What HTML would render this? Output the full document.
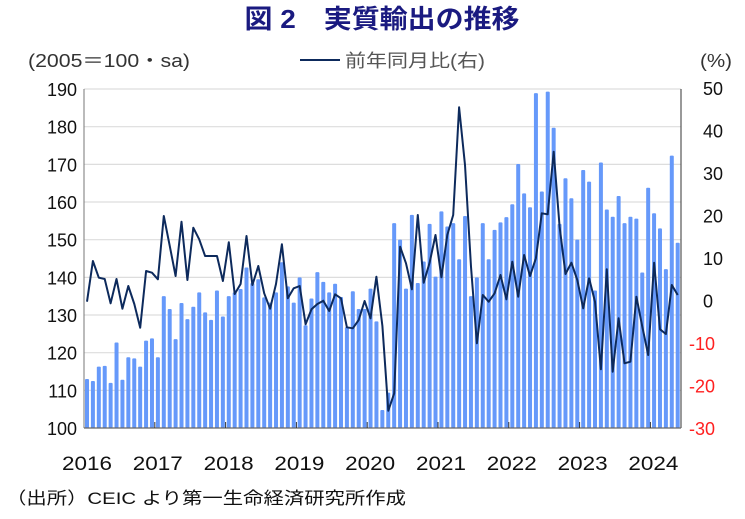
<!DOCTYPE html>
<html><head><meta charset="utf-8"><style>
html,body{margin:0;padding:0;background:#fff;}
svg{display:block;}
text{font-family:"Liberation Sans","Noto Sans CJK JP",sans-serif;}
</style></head><body>
<svg id="s" width="745" height="519" xmlns="http://www.w3.org/2000/svg">
<text x="382" y="28" text-anchor="middle" font-size="26" font-weight="bold" fill="#1a1a80" font-family="'Noto Sans CJK JP',sans-serif" textLength="275" lengthAdjust="spacingAndGlyphs">図 2　実質輸出の推移</text>
<text x="28" y="67" font-size="18" fill="#333" textLength="162" lengthAdjust="spacingAndGlyphs">(2005＝100・sa)</text>
<line x1="300" y1="60" x2="340" y2="60" stroke="#0d2a5c" stroke-width="2"/>
<text x="345" y="67" font-size="18" fill="#555" textLength="140" lengthAdjust="spacingAndGlyphs">前年同月比(右)</text>
<text x="700" y="67" font-size="18" fill="#333" textLength="32" lengthAdjust="spacingAndGlyphs">(%)</text>
<g id="grid"></g><g id="bars"></g>
<polyline id="ln" fill="none" stroke="#0d2a5c" stroke-width="2" stroke-linejoin="round"/>
<line x1="84" y1="89" x2="84" y2="428" stroke="#777" stroke-width="1"/>
<line x1="681" y1="89" x2="681" y2="428" stroke="#333" stroke-width="1"/>
<line x1="84" y1="428" x2="681" y2="428" stroke="#666" stroke-width="1.2"/>
<g id="lab"></g>
<text x="6" y="504" font-size="17" fill="#111" textLength="400" lengthAdjust="spacingAndGlyphs">（出所）CEIC より第一生命経済研究所作成</text>
</svg>
<script>
var NS="http://www.w3.org/2000/svg";
function el(p,t,a,txt){var e=document.createElementNS(NS,t);for(var k in a)e.setAttribute(k,a[k]);if(txt!==undefined)e.textContent=txt;document.getElementById(p).appendChild(e);return e;}
for(var i=0;i<=9;i++){var y=89+i*37.67;
 if(i<9)el("grid","line",{x1:84,x2:681,y1:y,y2:y,stroke:"#ddd","stroke-width":1.2});
 el("lab","text",{x:77,y:y+7,"font-size":18,"text-anchor":"end",fill:"#111"},String(190-i*10));}
for(var i=0;i<=8;i++){var y=88+i*42.5,v=50-i*10;
 el("lab","text",{x:v<0?689:703,y:y+7,"font-size":18,fill:v<0?"#ff2020":"#111"},String(v));}
var yrs=[2016,2017,2018,2019,2020,2021,2022,2023,2024];
for(var j=0;j<9;j++){var x=84+j*70.8;
 if(j>0)el("lab","line",{x1:x,x2:x,y1:422,y2:428,stroke:"#333"});
 el("lab","text",{x:x+3,y:470,"font-size":19,"text-anchor":"middle",fill:"#111",textLength:50,lengthAdjust:"spacingAndGlyphs"},String(yrs[j]));}
var b=[113,112.5,116.3,116.5,112,122.7,112.8,118.8,118.5,116.3,123.2,123.8,118.8,135,131.6,123.6,133.2,128.9,132.2,136,130.7,128.7,136.5,129.6,135,136,136.9,142.6,138.5,139.5,134.7,133.3,136,144,137.6,133.3,140,127.3,134.4,141.4,138.8,136,138.3,134.8,126.8,136.3,131.6,131.6,137,
128.3,104.8,109.4,154.4,150,137,156.6,138.5,144.2,154.2,140.2,157.5,153.5,154.4,144.8,156.3,135,140,154.4,144.8,152.6,154.6,156,159.4,170.1,162.3,158.6,188.9,162.8,189.3,179.7,154.2,166.3,161,150,168.5,165.4,136.5,170.5,158,156.1,161.6,154.4,156.1,155.6,141.3,163.8,157,153,142.2,172.3,149.2];
var dx=(677.7-87)/(b.length-1);
for(var i=0;i<b.length;i++){var x=87+i*dx,y=89+(190-b[i])*3.767;
 el("bars","rect",{x:x-2,y:y,width:4,height:428-y,fill:"#6699fa",rx:1});}
var l1=[665,543,593,597,670,597,686,618,672,743,573,578,598,408,497,588,425,600,443,478,528,528,528,603,487,642,612,468,615,558,640,686,612,493,655,625,618,733,688,672,662,693,643,655,742,745,720,663,715,590];
var l2=[738,992,940,500,550,628,405,608,548,465,592,465,405,82,255,560,790,645,665,640,585,658,545,650,525,588,535,400,403,215,440,582,548,600,685,595,665,868,568,875,715,850,845,650,740,825,548,748,762,615,645,735];
var ys=l1.concat(l2),pts=[];
for(var i=0;i<ys.length&&i<b.length;i++){pts.push((87+i*dx).toFixed(1)+","+(80+ys[i]/3).toFixed(1));}
document.getElementById("ln").setAttribute("points",pts.join(" "));
</script>
</body></html>
